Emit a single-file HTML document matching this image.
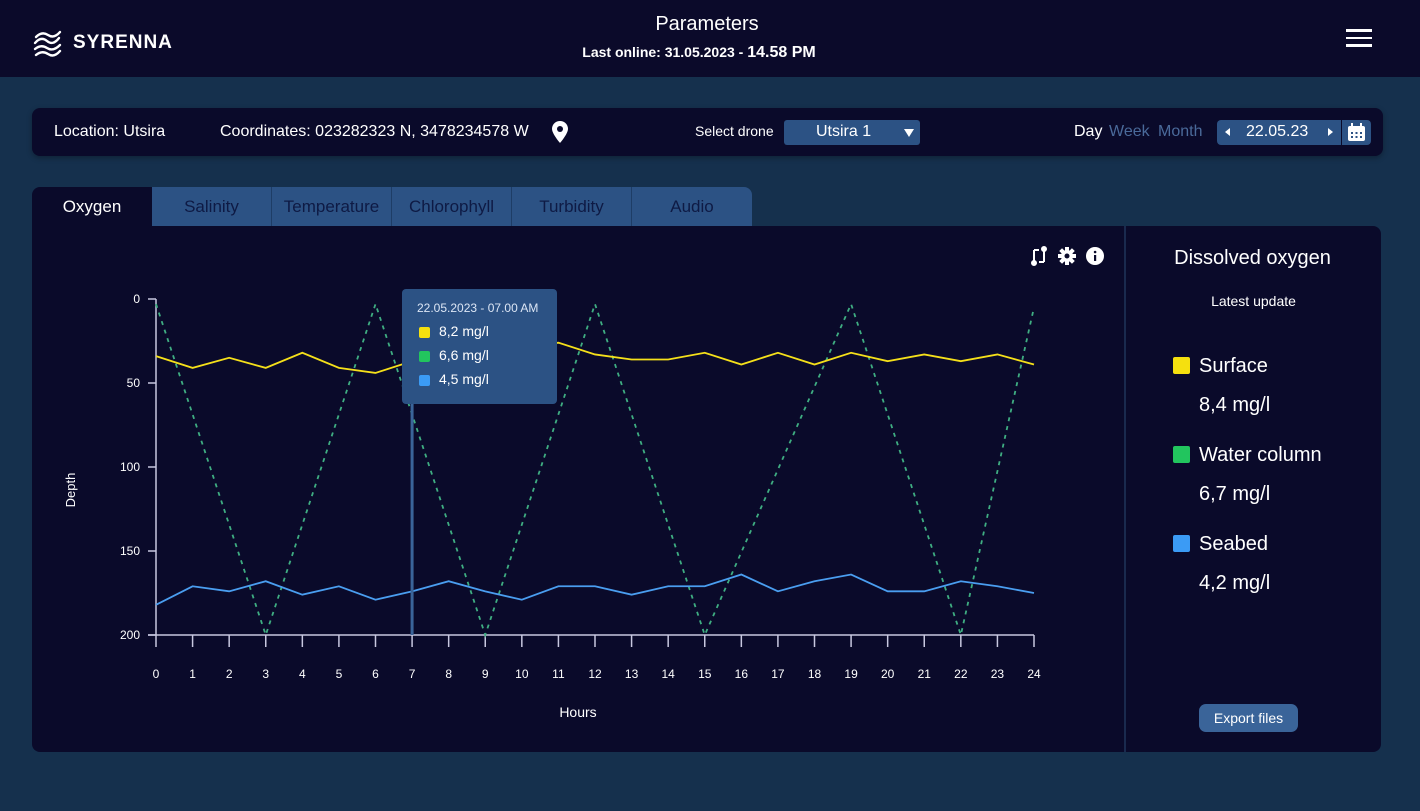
<!DOCTYPE html>
<html><head><meta charset="utf-8">
<style>
*{box-sizing:border-box;margin:0;padding:0}
body{width:1420px;height:811px;background:#15304d;font-family:"Liberation Sans",sans-serif;color:#fff;position:relative;overflow:hidden}
.abs{position:absolute}
#header{left:0;top:0;width:1420px;height:77px;background:#0b0a2a}
#toolbar{left:32px;top:108px;width:1351px;height:48px;background:#0a0a2a;border-radius:8px;box-shadow:0 2px 6px rgba(0,0,0,.3)}
.tab{top:187px;width:120px;height:39px;background:#2c5284;color:#0e1a44;font-size:17px;text-align:center;line-height:40px;border-right:1px solid #1e3d66}
#panel{left:32px;top:226px;width:1349px;height:526px;background:#0a0a2a;border-radius:0 8px 8px 8px}
.t{white-space:nowrap}
</style></head><body>
<div id="header" class="abs">
  <svg class="abs" style="left:32px;top:27px" width="32" height="32" viewBox="0 0 32 32" fill="none" stroke="#fff" stroke-width="2.4" stroke-linecap="round">
    <path d="M4 10 Q10 4 16 8 T28 5"/><path d="M3 16 Q9 9 15 14 T27 11"/><path d="M3 22 Q9 17 15 21 T28 18"/><path d="M4 28 Q10 23 16 27 T28 24"/>
  </svg>
  <div class="abs t" style="left:73px;top:32px;font-size:19px;font-weight:bold;letter-spacing:1px">SYRENNA</div>
  <div class="abs t" style="left:0;width:1414px;top:13px;text-align:center;font-size:20px">Parameters</div>
  <div class="abs t" style="left:0;width:1398px;top:44px;text-align:center;font-size:14px;font-weight:bold">Last online: 31.05.2023 - <span style="font-size:16px">14.58 PM</span></div>
  <div class="abs" style="left:1346px;top:29px;width:26px;height:18px">
    <div style="height:2.5px;background:#fff;margin-bottom:5px"></div><div style="height:2.5px;background:#fff;margin-bottom:5px"></div><div style="height:2.5px;background:#fff"></div>
  </div>
</div>

<div id="toolbar" class="abs">
  <div class="abs t" style="left:22px;top:15px;font-size:16px">Location: Utsira</div>
  <div class="abs t" style="left:188px;top:15px;font-size:16px">Coordinates: 023282323 N, 3478234578 W</div>
  <svg class="abs" style="left:520px;top:13px" width="16" height="22" viewBox="0 0 16 22"><path d="M8 0C3.6 0 0 3.5 0 7.8 0 13 8 22 8 22s8-9 8-14.2C16 3.5 12.4 0 8 0z" fill="#fff"/><circle cx="8" cy="8" r="3" fill="#0a0a2a"/></svg>
  <div class="abs t" style="left:663px;top:15px;font-size:14px">Select drone</div>
  <div class="abs" style="left:752px;top:12px;width:136px;height:25px;background:#2c5284;border-radius:3px">
    <div class="abs t" style="left:32px;top:3px;font-size:16px">Utsira 1</div>
    <div class="abs" style="left:120px;top:9px;border-left:5px solid transparent;border-right:5px solid transparent;border-top:8px solid #fff"></div>
  </div>
  <div class="abs t" style="left:1042px;top:15px;font-size:16px">Day</div>
  <div class="abs t" style="left:1077px;top:15px;font-size:16px;color:#4a6a9a">Week</div>
  <div class="abs t" style="left:1126px;top:15px;font-size:16px;color:#4a6a9a">Month</div>
  <div class="abs" style="left:1185px;top:12px;width:124px;height:25px;background:#2c5284;border-radius:4px 0 0 4px">
    <div class="abs" style="left:8px;top:8px;border-top:4px solid transparent;border-bottom:4px solid transparent;border-right:5px solid #fff"></div>
    <div class="abs t" style="left:29px;top:3px;font-size:16px">22.05.23</div>
    <div class="abs" style="left:111px;top:8px;border-top:4px solid transparent;border-bottom:4px solid transparent;border-left:5px solid #fff"></div>
  </div>
  <div class="abs" style="left:1310px;top:12px;width:29px;height:25px;background:#2c5284;border-radius:0 4px 4px 0">
    <svg class="abs" style="left:5px;top:3px" width="19" height="19" viewBox="0 0 19 19"><rect x="1" y="3" width="17" height="15" rx="2" fill="#fff"/><rect x="4" y="0" width="2" height="4" fill="#fff"/><rect x="13" y="0" width="2" height="4" fill="#fff"/><g fill="#2c5284"><rect x="4" y="9" width="2" height="2"/><rect x="8.5" y="9" width="2" height="2"/><rect x="13" y="9" width="2" height="2"/><rect x="4" y="13" width="2" height="2"/><rect x="8.5" y="13" width="2" height="2"/><rect x="13" y="13" width="2" height="2"/></g></svg>
  </div>
</div>

<div class="abs tab" style="left:32px;background:#0a0a2a;color:#fff;border-radius:8px 0 0 0;border:none">Oxygen</div>
<div class="abs tab" style="left:152px">Salinity</div>
<div class="abs tab" style="left:272px">Temperature</div>
<div class="abs tab" style="left:392px">Chlorophyll</div>
<div class="abs tab" style="left:512px">Turbidity</div>
<div class="abs tab" style="left:632px;border-radius:0 8px 0 0;border:none">Audio</div>

<div id="panel" class="abs">
  <div class="abs" style="left:1092px;top:0;width:2px;height:526px;background:#1a2a4e"></div>
  <div class="abs t" style="left:1092px;width:257px;top:21px;text-align:center;font-size:20px">Dissolved oxygen</div>
  <div class="abs t" style="left:1092px;width:259px;top:67px;text-align:center;font-size:14px">Latest update</div>
  <div class="abs" style="left:1141px;top:131px;width:17px;height:17px;background:#f5e00f;border-radius:2px"></div>
  <div class="abs t" style="left:1167px;top:129px;font-size:20px">Surface</div>
  <div class="abs t" style="left:1167px;top:168px;font-size:20px">8,4 mg/l</div>
  <div class="abs" style="left:1141px;top:220px;width:17px;height:17px;background:#22c55e;border-radius:2px"></div>
  <div class="abs t" style="left:1167px;top:218px;font-size:20px">Water column</div>
  <div class="abs t" style="left:1167px;top:257px;font-size:20px">6,7 mg/l</div>
  <div class="abs" style="left:1141px;top:309px;width:17px;height:17px;background:#3b9bf5;border-radius:2px"></div>
  <div class="abs t" style="left:1167px;top:307px;font-size:20px">Seabed</div>
  <div class="abs t" style="left:1167px;top:346px;font-size:20px">4,2 mg/l</div>
  <div class="abs t" style="left:1167px;top:478px;width:99px;height:28px;background:#3a6499;border-radius:7px;font-size:14px;text-align:center;line-height:28px">Export files</div>

  <svg class="abs" style="left:998px;top:20px" width="18" height="20" viewBox="0 0 18 20" fill="none" stroke="#fff" stroke-width="2"><path d="M4 4v12M14 4v12M4 4h5M14 16H9"/><circle cx="4" cy="17" r="2" fill="#fff"/><circle cx="14" cy="3" r="2" fill="#fff"/></svg>
  <svg class="abs" style="left:1026px;top:21px" width="18" height="18" viewBox="0 0 18 18"><g fill="#fff"><circle cx="9" cy="9" r="6"/><rect x="7" y="0" width="4" height="18"/><rect x="0" y="7" width="18" height="4"/><rect x="7" y="0" width="4" height="18" transform="rotate(45 9 9)"/><rect x="7" y="0" width="4" height="18" transform="rotate(-45 9 9)"/></g><circle cx="9" cy="9" r="2.5" fill="#0a0a2a"/></svg>
  <svg class="abs" style="left:1054px;top:21px" width="18" height="18" viewBox="0 0 18 18"><circle cx="9" cy="9" r="9" fill="#fff"/><rect x="8" y="8" width="2.2" height="6" fill="#0a0a2a"/><circle cx="9.1" cy="5" r="1.3" fill="#0a0a2a"/></svg>
</div>

<svg id="chart" class="abs" style="left:0;top:0" width="1420" height="811"></svg>

<div class="abs" style="left:402px;top:289px;width:155px;height:115px;background:#2c5284;border-radius:4px">
  <div class="abs t" style="left:15px;top:12px;font-size:12px;color:#dce6f5">22.05.2023 - 07.00 AM</div>
  <div class="abs" style="left:17px;top:38px;width:11px;height:11px;background:#f5e00f;border-radius:2px"></div>
  <div class="abs t" style="left:37px;top:34px;font-size:14px">8,2 mg/l</div>
  <div class="abs" style="left:17px;top:62px;width:11px;height:11px;background:#22c55e;border-radius:2px"></div>
  <div class="abs t" style="left:37px;top:58px;font-size:14px">6,6 mg/l</div>
  <div class="abs" style="left:17px;top:86px;width:11px;height:11px;background:#3b9bf5;border-radius:2px"></div>
  <div class="abs t" style="left:37px;top:82px;font-size:14px">4,5 mg/l</div>
</div>

<script>
const hours = [0,1,2,3,4,5,6,7,8,9,10,11,12,13,14,15,16,17,18,19,20,21,22,23,24];
const surfaceDepth = [34,41,35,41,32,41,44,37,33,31,29,26,33,36,36,32,39,32,39,32,37,33,37,33,39];
const seabedDepth = [182,171,174,168,176,171,179,174,168,174,179,171,171,176,171,171,164,174,168,164,174,174,168,171,175];
const columnHours = [0,3,6,9,12,15,19,22,24];
const columnDepth = [3,200,3,200,3,200,3,200,5];
const yTicks = [0,50,100,150,200];
const selectedHour = 7;

const svg = document.getElementById('chart');
const NS = 'http://www.w3.org/2000/svg';
const X0=156, X1=1034, Y0=299, Y1=635;
const xs = h => X0 + (h/24)*(X1-X0);
const ys = d => Y0 + (d/200)*(Y1-Y0);
function mk(tag, attrs){const e=document.createElementNS(NS,tag);for(const k in attrs)e.setAttribute(k,attrs[k]);svg.appendChild(e);return e;}

const yAxis = mk('line',{x1:X0,y1:Y0,x2:X0,y2:Y1,stroke:'#c8c8e0','stroke-width':1.5});


const xAxis = mk('line',{x1:X0-8,y1:Y1,x2:X1,y2:Y1,stroke:'#c8c8e0','stroke-width':1.5});


yTicks.forEach(v=>{
  const tk = mk('line',{x1:X0-8,y1:ys(v),x2:X0,y2:ys(v),stroke:'#c8c8e0','stroke-width':1.5});
  
  
  const tl = mk('text',{x:X0-16,y:ys(v)+4,'text-anchor':'end',fill:'#fff','font-size':12,'font-family':'Liberation Sans, sans-serif'});
  tl.textContent=v;
  
  
});
hours.forEach(h=>{
  const tk = mk('line',{x1:xs(h),y1:Y1,x2:xs(h),y2:Y1+12,stroke:'#c8c8e0','stroke-width':1.5});
  
  
  const tl = mk('text',{x:xs(h),y:Y1+43,'text-anchor':'middle',fill:'#fff','font-size':12,'font-family':'Liberation Sans, sans-serif'});
  tl.textContent=h;
  
  
});
const yt = mk('text',{x:0,y:0,transform:'translate(75,490) rotate(-90)','text-anchor':'middle',fill:'#fff','font-size':13,'font-family':'Liberation Sans, sans-serif'});
yt.textContent='Depth';


const xt = mk('text',{x:578,y:717,'text-anchor':'middle',fill:'#fff','font-size':14,'font-family':'Liberation Sans, sans-serif'});
xt.textContent='Hours';



const colLine = mk('polyline',{points:columnHours.map((h,i)=>xs(h)+','+ys(columnDepth[i])).join(' '),fill:'none',stroke:'#3fae82','stroke-width':1.8,'stroke-dasharray':'4 5'});


const surfLine = mk('polyline',{points:hours.map((h,i)=>xs(h)+','+ys(surfaceDepth[i])).join(' '),fill:'none',stroke:'#f5e01a','stroke-width':1.8});


const seaLine = mk('polyline',{points:hours.map((h,i)=>xs(h)+','+ys(seabedDepth[i])).join(' '),fill:'none',stroke:'#4a9ef0','stroke-width':1.8});


const cursor = mk('line',{x1:xs(selectedHour),y1:395,x2:xs(selectedHour),y2:Y1,stroke:'#3a6499','stroke-width':3});


</script>
</body></html>
